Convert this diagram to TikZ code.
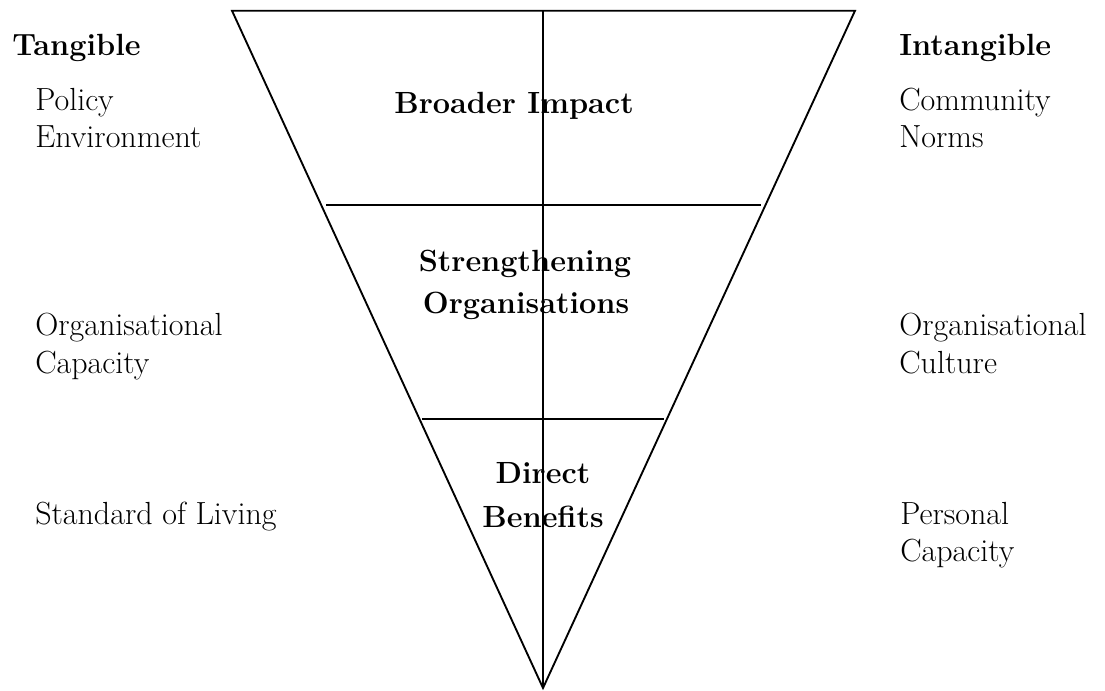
\documentclass[tikz,border=0pt]{standalone}
\tikzset{
  lbl/.style={inner sep=0pt, font=\fontsize{24}{29}\selectfont, anchor=base west},
  ttl/.style={inner sep=0pt, font=\bfseries\fontsize{23}{31}\selectfont, anchor=base west},
  mid/.style={inner sep=0pt, font=\bfseries\fontsize{23}{31}\selectfont, anchor=base},
  edgeline/.style={line width=1.4pt, line join=miter}
}
\begin{document}
\begin{tikzpicture}[x=0.75pt,y=-0.75pt]
\useasboundingbox (0,0) rectangle (1105,690);
% triangle
\coordinate (tl) at (232,10.7);
\coordinate (tr) at (855,10.7);
\coordinate (bt) at (543,688);
\coordinate (tm) at (543,10.7);
\coordinate (l1a) at (326,205);
\coordinate (l1b) at (761,205);
\coordinate (l2a) at (422,419);
\coordinate (l2b) at (664,419);
\draw[edgeline] (tl) -- (tr) -- (bt) -- cycle;
\draw[edgeline] (tm) -- (bt);
\draw[edgeline] (l1a) -- (l1b);
\draw[edgeline] (l2a) -- (l2b);
% left column
\node[ttl] (tang) at (12,55) {Tangible};
\node[lbl] (pol) at (35,110) {Policy};
\node[lbl] (env) at (35,147) {Environment};
\node[lbl] (orgl) at (35,335) {Organisational};
\node[lbl] (capl) at (35,373) {Capacity};
\node[lbl] (std) at (35,524) {Standard of Living};
% right column
\node[ttl] (intang) at (899,55) {Intangible};
\node[lbl] (com) at (899,110) {Community};
\node[lbl] (nor) at (899,147) {Norms};
\node[lbl] (orgr) at (899,335) {Organisational};
\node[lbl] (cul) at (899,373) {Culture};
\node[lbl] (per) at (900,524) {Personal};
\node[lbl] (capr) at (900,561) {Capacity};
% inside
\node[mid] (broad) at (514,113) {Broader Impact};
\node[mid] (str) at (525,271) {Strengthening};
\node[mid] (orgs) at (526,313) {Organisations};
\node[mid] (dir) at (543,483) {Direct};
\node[mid] (ben) at (543,527) {Benefits};
\end{tikzpicture}
\end{document}
